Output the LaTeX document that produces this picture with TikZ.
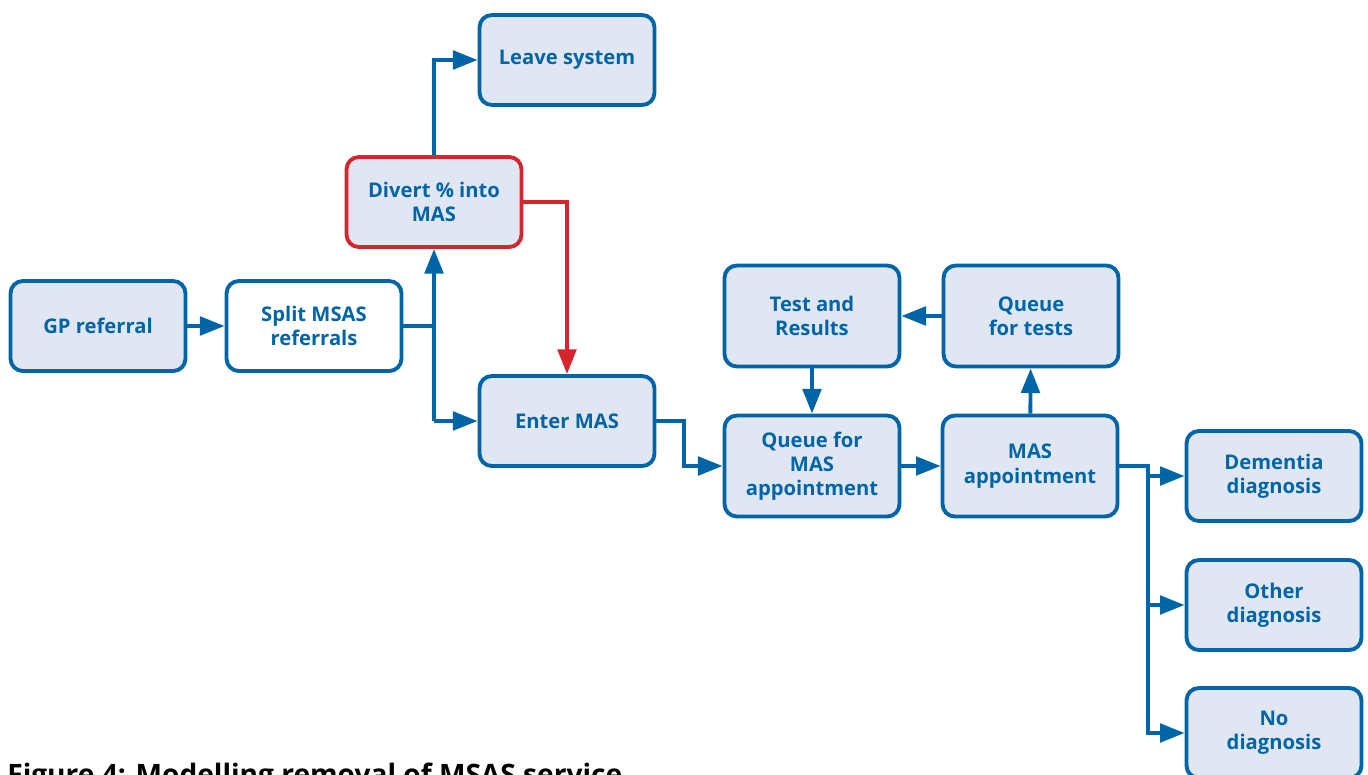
\documentclass[tikz,border=0pt]{standalone}
\usepackage{fontspec}
\setmainfont{Open Sans}
\usetikzlibrary{arrows.meta}

\definecolor{nhsblue}{RGB}{0,101,166}
\definecolor{boxfill}{RGB}{225,231,242}
\definecolor{divertred}{RGB}{214,37,45}

\tikzset{
  stage/.style={draw=nhsblue, fill=boxfill, line width=2.2pt, rounded corners=7pt,
    minimum width=3.5cm, minimum height=1.8cm, align=center, text=nhsblue,
    font=\bfseries\fontsize{11.5}{13.8}\selectfont, inner sep=2pt},
  tall/.style={minimum height=2.02cm},
  link/.style={draw=nhsblue, line width=2.2pt},
  flow/.style={link, -{Triangle[length=14pt,width=10.5pt]}},
}

\begin{document}
\begin{tikzpicture}[x=0.02cm, y=-0.02cm]
\useasboundingbox (0,0) rectangle (1368,774);

% boxes
\node[stage] (gp) at (98,326) {GP referral};
\node[stage, fill=white] (split) at (314,326) {Split MSAS\\referrals};
\node[stage, draw=divertred] (divert) at (434,202) {Divert \% into\\MAS};
\node[stage] (leave) at (567,60) {Leave system};
\node[stage] (enter) at (567,421) {Enter MAS};
\node[stage, tall] (tests) at (812,316) {Test and\\Results};
\node[stage, tall] (qtests) at (1031,316) {Queue\\for tests};
\node[stage, tall] (qmas) at (812,466) {Queue for\\MAS\\appointment};
\node[stage, tall] (appt) at (1030,466) {MAS\\appointment};
\node[stage] (dementia) at (1274,476) {Dementia\\diagnosis};
\node[stage] (other) at (1274,605) {Other\\diagnosis};
\node[stage] (nodiag) at (1274,733) {No\\diagnosis};

% caption, cut by the page edge
\node[anchor=base west, inner sep=0pt, font=\bfseries\fontsize{16}{19}\selectfont] (caption) at (7,784) {Figure 4: Modelling removal of MSAS service};

% connectors
\coordinate (fork) at (divert.south |- enter.west);
\coordinate (branch) at (1148,466);

\draw[flow] (gp) -- (split);
\draw[link] (split.east) -- (split.east -| fork);
\draw[flow] (fork) -- (divert.south);
\draw[flow] (fork) -- (enter.west);
\draw[flow] (divert.north) |- (leave.west);
\draw[flow, draw=divertred] (divert.east) -| (enter.north);
\draw[flow] (enter.east) -- ++(28,0) |- (qmas.west);
\draw[flow] (qmas) -- (appt);
\draw[flow] (appt) -- (qtests);
\draw[flow] (qtests) -- (tests);
\draw[flow] (tests) -- (qmas);
\draw[flow] (appt.east) -- (branch) |- (nodiag.west);
\draw[flow] (branch |- dementia.west) -- (dementia.west);
\draw[flow] (branch |- other.west) -- (other.west);
\end{tikzpicture}
\end{document}
